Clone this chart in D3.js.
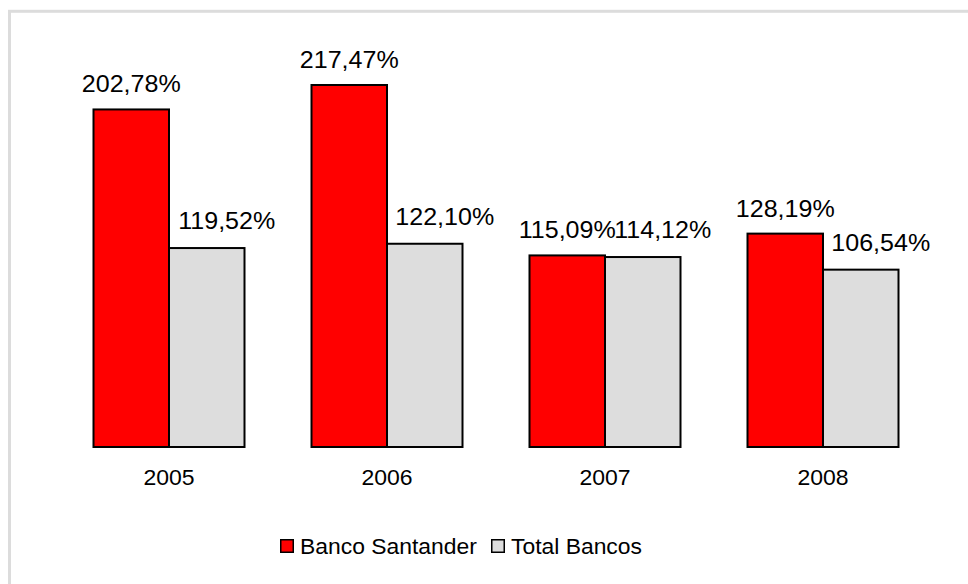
<!DOCTYPE html>
<html>
<head>
<meta charset="utf-8">
<script src="https://cdn.jsdelivr.net/npm/d3@7"></script>
<style>
  html, body { margin: 0; padding: 0; background: #fff; }
  svg { display: block; }
  text { font-family: "Liberation Sans", Arial, sans-serif; fill: #000; }
</style>
</head>
<body>
<svg id="chart" width="968" height="584"></svg>
<script>
const categories = ["2005", "2006", "2007", "2008"];
const seriesNames = ["Banco Santander", "Total Bancos"];
const santander = [202.78, 217.47, 115.09, 128.19];
const totalBancos = [119.52, 122.10, 114.12, 106.54];
const labelsSantander = ["202,78%", "217,47%", "115,09%", "128,19%"];
const labelsTotal = ["119,52%", "122,10%", "114,12%", "106,54%"];

const colors = ["#ff0000", "#dddddd"];
const seriesValues = [santander, totalBancos];
const seriesLabels = [labelsSantander, labelsTotal];
const labelOffsets = [{dx: 0, dy: -17}, {dx: 20, dy: -19}];

const svg = d3.select("#chart");

// outer frame
svg.append("rect")
  .attr("x", 9.5).attr("y", 11.3)
  .attr("width", 1000).attr("height", 1000)
  .attr("fill", "#fff")
  .attr("stroke", "#dcdcdc")
  .attr("stroke-width", 3);

const x0 = d3.scaleBand().domain(categories).range([60, 932]).paddingInner(0).paddingOuter(0);
const bandPad = (218 - 151) / 2;
const x1 = d3.scaleBand().domain(seriesNames).range([bandPad, x0.bandwidth() - bandPad]).padding(0);
const y = d3.scaleLinear().domain([0, 250]).range([447, 30.85]);

const g = svg.append("g");

seriesNames.forEach((s, si) => {
  g.selectAll(".bar-" + si)
    .data(categories)
    .join("rect")
    .attr("x", c => x0(c) + x1(s))
    .attr("y", (c, i) => y(seriesValues[si][i]))
    .attr("width", x1.bandwidth())
    .attr("height", (c, i) => y(0) - y(seriesValues[si][i]))
    .attr("fill", colors[si])
    .attr("stroke", "#000")
    .attr("stroke-width", 2);
});

seriesNames.forEach((s, si) => {
  g.selectAll(".lbl-" + si)
    .data(categories)
    .join("text")
    .attr("text-anchor", "middle")
    .attr("font-size", 23)
    .attr("transform", (c, i) => {
      const cx = x0(c) + x1(s) + x1.bandwidth() / 2 + labelOffsets[si].dx;
      const cy = y(seriesValues[si][i]) + labelOffsets[si].dy;
      return `translate(${cx},${cy}) scale(1.09,1)`;
    })
    .text((c, i) => seriesLabels[si][i]);
});

// category axis labels
const xAxis = d3.axisBottom(x0).tickSize(0).tickPadding(0);
const ax = svg.append("g").attr("transform", "translate(0,447)").call(xAxis);
ax.select(".domain").remove();
ax.selectAll(".tick text")
  .attr("font-size", 21.5)
  .attr("dy", 0)
  .attr("x", 0)
  .attr("y", 0)
  .attr("transform", "translate(0,38) scale(1.07,1)")
  .style("font-family", "'Liberation Sans', Arial, sans-serif")
  .attr("fill", "#000");

// legend
const legend = svg.append("g");
const legendItems = [{x: 280}, {x: 491}];
seriesNames.forEach((s, si) => {
  const lg = legend.append("g").attr("transform", `translate(${legendItems[si].x},539)`);
  lg.append("rect")
    .attr("x", 0.75).attr("y", 0.75)
    .attr("width", 12.5).attr("height", 12.5)
    .attr("fill", colors[si])
    .attr("stroke", "#000")
    .attr("stroke-width", 1.5);
  lg.append("text")
    .attr("font-size", 22)
    .attr("transform", "translate(20,14.5) scale(1.04,1)")
    .text(s);
});
</script>
</body>
</html>
